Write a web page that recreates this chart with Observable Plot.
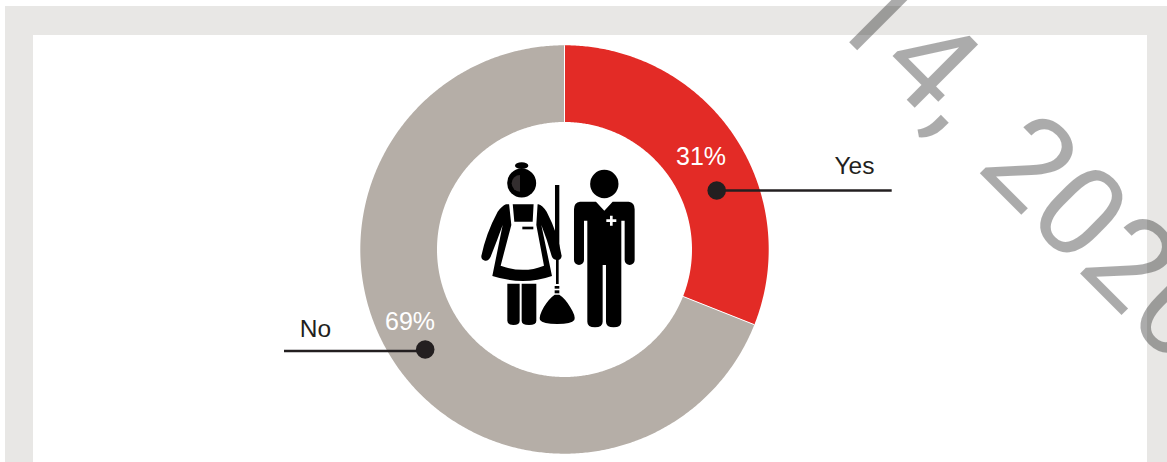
<!DOCTYPE html>
<html>
<head>
<meta charset="utf-8">
<script src="https://cdn.jsdelivr.net/npm/d3@7"></script>
<script src="https://cdn.jsdelivr.net/npm/@observablehq/plot@0.6"></script>
<style>
  html, body { margin: 0; padding: 0; background: #fff; overflow: hidden; width: 1167px; height: 462px; }
  #frame { position: absolute; left: 5px; top: 6px; right: 0; bottom: 0; background: #e8e7e5; }
  #inner { position: absolute; left: 33px; top: 35px; width: 1114px; bottom: 0; background: #fff; }
  #chart { position: absolute; left: 0; top: 0; }
</style>
</head>
<body>
<div id="frame"></div>
<div id="inner"></div>
<div id="chart"></div>
<script>
// Values
const categories = ["Yes", "No"];
const shares = [31, 69];
const percentLabels = ["31%", "69%"];
const sliceColors = ["#e32b26", "#b5aea7"];
const watermarkParts = ["14,", "2020"];

// Layout (units of the x / y scales are pixels around the ring's centre)
const W = 1167, H = 462, CX = 564, CY = 249;
const R_OUT = 204.2, R_IN = 127.5;

const polar = (deg, r) => ({
  x: r * Math.sin(deg * Math.PI / 180),
  y: r * Math.cos(deg * Math.PI / 180)
});

// slice start / end angles, from the shares
const total = d3.sum(shares);
const ends = d3.cumsum(shares).map(v => v / total * 360);
const starts = [0, ...ends.slice(0, -1)];

const ringPoints = categories.flatMap((label, i) => {
  const steps = Math.ceil((ends[i] - starts[i]) * 2);
  const a = d3.range(steps + 1).map(k => starts[i] + (ends[i] - starts[i]) * k / steps);
  return [
    ...a.map(d => ({label, ...polar(d, R_OUT)})),
    ...a.slice().reverse().map(d => ({label, ...polar(d, R_IN)}))
  ];
});

const separators = starts.map(a => {
  const p = polar(a, R_IN), q = polar(a, R_OUT);
  return {x1: p.x, y1: p.y, x2: q.x, y2: q.y};
});

// Annotation placement
const pctPos = [{x: 136.5, y: 93}, {x: -154.5, y: -72}];
const pctRows = percentLabels.map((t, i) => ({t, ...pctPos[i]}));
const dots = [{x: 152.2, y: 59}, {x: -139.3, y: -100}];
const leaders = [
  {x1: 152.2, x2: 327.7, y: 59},
  {x1: -139.3, x2: -280, y: -101.5}
];
const nameRows = [
  {t: categories[0], x: 290, y: 83.5},
  {t: categories[1], x: -249, y: -79.5}
];
const markPos = [{x: 261, y: 231}, {x: 410, y: 81.5}];
const markRows = watermarkParts.map((t, i) => ({t, ...markPos[i]}));
const INK = "#231f20";

// Pictogram drawn in its own group (decoration, not data)
function pictogram() {
  const g = d3.create("svg:g").attr("transform", "translate(470,150) scale(0.3333)");
  const p = (d, fill) => g.append("path").attr("d", d).attr("fill", fill);
  const c = (x, y, r, fill) => g.append("circle").attr("cx", x).attr("cy", y).attr("r", r).attr("fill", fill);
  // man
  c(403, 102, 42.5, "#000");
  p("M330 155 L378 155 L403 182 L428 155 L476 155 Q494 157 494 178 L494 330 A15 15 0 0 1 464 330 L464 212 L454 212 L454 515 Q454 532 431 532 Q408 532 408 515 L408 345 L398 345 L398 515 Q398 532 375 532 Q352 532 352 515 L352 212 L342 212 L342 330 A15 15 0 0 1 312 330 L312 178 Q312 157 330 155 Z", "#000");
  p("M420 197 H428 V208 H439 V216 H428 V227 H420 V216 H409 V208 H420 Z", "#fff");
  // maid: bun, head, face shade
  g.append("ellipse").attr("cx", 155).attr("cy", 47).attr("rx", 20).attr("ry", 10).attr("fill", "#000");
  c(155, 99, 43.5, "#000");
  p("M150 75 A25 25 0 0 0 150 125 Z", "#332e2f");
  // maid: body
  p("M108 163 L205 163 Q217 166 230 185 Q264 250 275 318 Q273 332 260 330 Q248 328 245 318 Q232 270 214 225 L246 378 Q160 408 67 378 L98 225 Q82 270 62 320 Q55 334 45 332 Q33 330 34 318 Q48 250 83 185 Q96 168 108 163 Z", "#000");
  // apron + pocket
  p("M117 160 L128 160 L133 215 L188 215 L191 160 L203 160 L199 225 L222 347 Q160 372 92 347 L124 225 Z", "#fff");
  p("M157 230 H190 V238 H157 Z", "#000");
  // legs
  p("M112 401 H149 V512 Q149 525 130 525 Q112 525 112 512 Z", "#000");
  p("M155 401 H199 V512 Q199 525 177 525 Q155 525 155 512 Z", "#000");
  // broom
  p("M255 105 H268 V322 H266 V402 H258 V322 H255 Z", "#000");
  p("M254 408 H268 V416 H254 Z", "#000");
  p("M254 421 H268 V430 H254 Z", "#000");
  p("M254 434 L268 434 Q285 445 300 470 Q318 498 313 510 Q305 522 262 522 Q218 522 210 510 Q206 498 222 470 Q238 445 254 434 Z", "#000");
  return g.node();
}

const chart = Plot.plot({
  width: W,
  height: H,
  margin: 0,
  axis: null,
  x: {domain: [-CX, W - CX], range: [0, W]},
  y: {domain: [CY, CY - H], range: [0, H]},
  color: {domain: categories, range: sliceColors},
  style: {background: "transparent", overflow: "hidden"},
  marks: [
    Plot.line(ringPoints, {x: "x", y: "y", z: "label", fill: "label", stroke: "none"}),
    Plot.link(separators, {x1: "x1", y1: "y1", x2: "x2", y2: "y2", stroke: "#fff", strokeWidth: 1}),
    pictogram,
    Plot.ruleY(leaders, {x1: "x1", x2: "x2", y: "y", stroke: INK, strokeWidth: 2.5}),
    Plot.dot(dots, {x: "x", y: "y", r: 9.3, fill: INK, stroke: "none"}),
    Plot.text(pctRows, {x: "x", y: "y", text: "t", fill: "#fff", fontSize: 25, fontFamily: "Liberation Sans", textAnchor: "middle"}),
    Plot.text(nameRows, {x: "x", y: "y", text: "t", fill: INK, fontSize: 24.5, fontFamily: "Liberation Sans", textAnchor: "middle"}),
    Plot.text(markRows, {
      x: "x", y: "y", text: "t",
      rotate: 45, textAnchor: "start", lineAnchor: "bottom",
      fontSize: 126, fontFamily: "Roboto", fill: "#000", fillOpacity: 0.33
    })
  ]
});
document.getElementById("chart").appendChild(chart);
</script>
</body>
</html>
